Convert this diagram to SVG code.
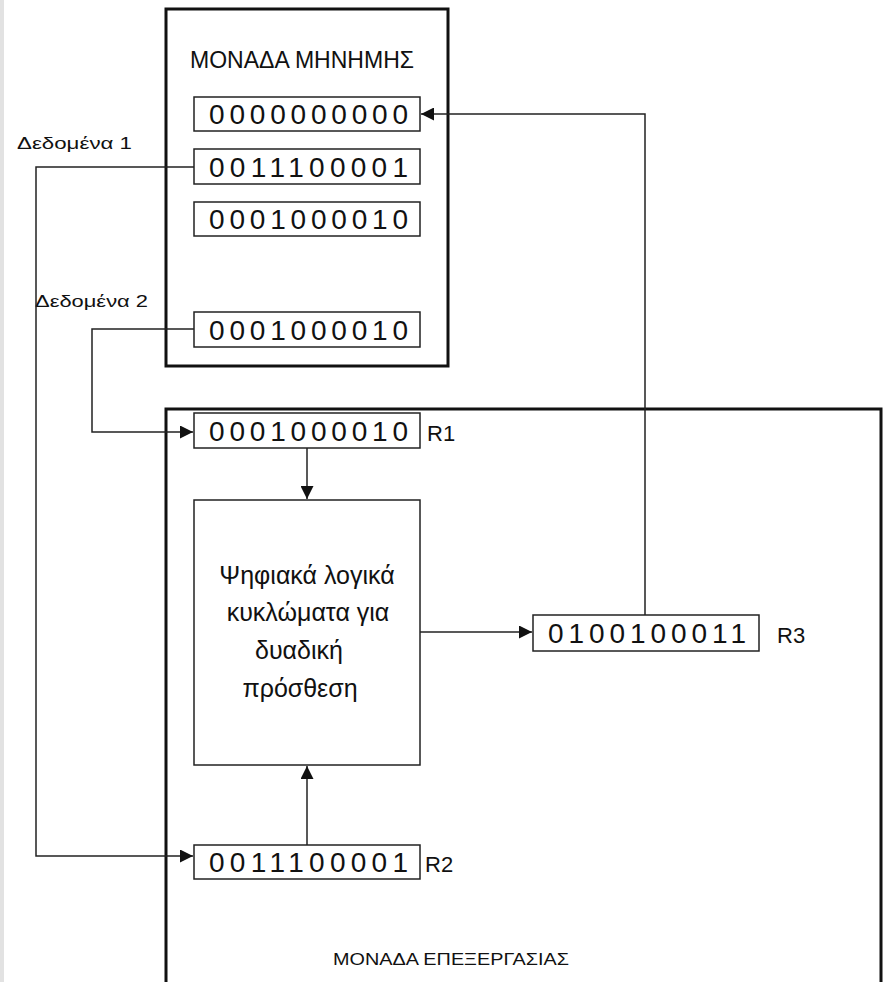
<svg xmlns="http://www.w3.org/2000/svg" width="884" height="982" viewBox="0 0 884 982">
<style>
.unit{fill:none;stroke:#111;stroke-width:3}
.reg{fill:#fff;stroke:#222;stroke-width:1.5}
.bits{font-family:"Liberation Sans",Arial,sans-serif;font-size:28px;fill:#111}
.lbl{font-family:"Liberation Sans",Arial,sans-serif;fill:#111}
.ad{font-family:"Liberation Sans",Arial,sans-serif;fill:#111;font-size:25px;text-anchor:middle}
.wire{fill:none;stroke:#222;stroke-width:1.5}
</style>
<defs>
<marker id="ah" viewBox="0 0 10 10" refX="10" refY="5" markerWidth="20" markerHeight="13" markerUnits="userSpaceOnUse" orient="auto">
<path d="M0,0 L10,5 L0,10 z" fill="#111"/>
</marker>
</defs>
<rect x="0" y="0" width="884" height="982" fill="#fff"/>
<rect x="0" y="0" width="4" height="982" fill="#e2e2e2"/>

<g id="memory">
<rect class="unit" x="166" y="9" width="282" height="357"/>
<text class="lbl" x="302" y="68" font-size="24" text-anchor="middle" textLength="224" lengthAdjust="spacingAndGlyphs">ΜΟΝΑΔΑ ΜΗΝΗΜΗΣ</text>
</g>
<g id="mem1"><rect class="reg" x="194" y="97" width="226" height="34"/><text class="bits" x="209" y="124" textLength="199" lengthAdjust="spacing">0000000000</text></g>
<g id="mem2"><rect class="reg" x="194" y="149" width="226" height="35"/><text class="bits" x="209" y="177" textLength="199" lengthAdjust="spacing">0011100001</text></g>
<g id="mem3"><rect class="reg" x="194" y="202" width="226" height="34"/><text class="bits" x="209" y="229" textLength="199" lengthAdjust="spacing">0001000010</text></g>
<g id="mem4"><rect class="reg" x="194" y="312" width="226" height="35"/><text class="bits" x="209" y="340" textLength="199" lengthAdjust="spacing">0001000010</text></g>

<g id="processing">
<path class="unit" d="M166,990 V409 H881 V990"/>
<text class="lbl" x="451" y="965" font-size="17" text-anchor="middle" textLength="236" lengthAdjust="spacingAndGlyphs">ΜΟΝΑΔΑ ΕΠΕΞΕΡΓΑΣΙΑΣ</text>
</g>
<g id="R1"><rect class="reg" x="194" y="413" width="226" height="35"/><text class="bits" x="209" y="441" textLength="199" lengthAdjust="spacing">0001000010</text><text class="lbl" x="427" y="441" font-size="22">R1</text></g>
<g id="adder">
<rect class="reg" x="194" y="500" width="226" height="265"/>
<text class="ad" x="307" y="584">Ψηφιακά λογικά</text>
<text class="ad" x="308" y="621">κυκλώματα για</text>
<text class="ad" x="299" y="659">δυαδική</text>
<text class="ad" x="300" y="697">πρόσθεση</text>
</g>
<g id="R3"><rect class="reg" x="533" y="615" width="226" height="36"/><text class="bits" x="548" y="643" textLength="198" lengthAdjust="spacing">0100100011</text><text class="lbl" x="777" y="643" font-size="22">R3</text></g>
<g id="R2"><rect class="reg" x="194" y="845" width="226" height="34"/><text class="bits" x="209" y="872" textLength="199" lengthAdjust="spacing">0011100001</text><text class="lbl" x="425" y="872" font-size="22">R2</text></g>

<g id="labels">
<text class="lbl" x="17" y="149" font-size="17" textLength="115" lengthAdjust="spacingAndGlyphs">Δεδομένα 1</text>
<text class="lbl" x="35" y="307" font-size="17" textLength="113" lengthAdjust="spacingAndGlyphs">Δεδομένα 2</text>
</g>

<g id="connectors">
<path class="wire" d="M194,167 H36 V856 H193" marker-end="url(#ah)"/>
<path class="wire" d="M194,329 H92 V432 H193" marker-end="url(#ah)"/>
<path class="wire" d="M307,448 V499" marker-end="url(#ah)"/>
<path class="wire" d="M307,845 V766" marker-end="url(#ah)"/>
<path class="wire" d="M420,632 H532" marker-end="url(#ah)"/>
<path class="wire" d="M645,615 V114 H421" marker-end="url(#ah)"/>
</g>
</svg>
